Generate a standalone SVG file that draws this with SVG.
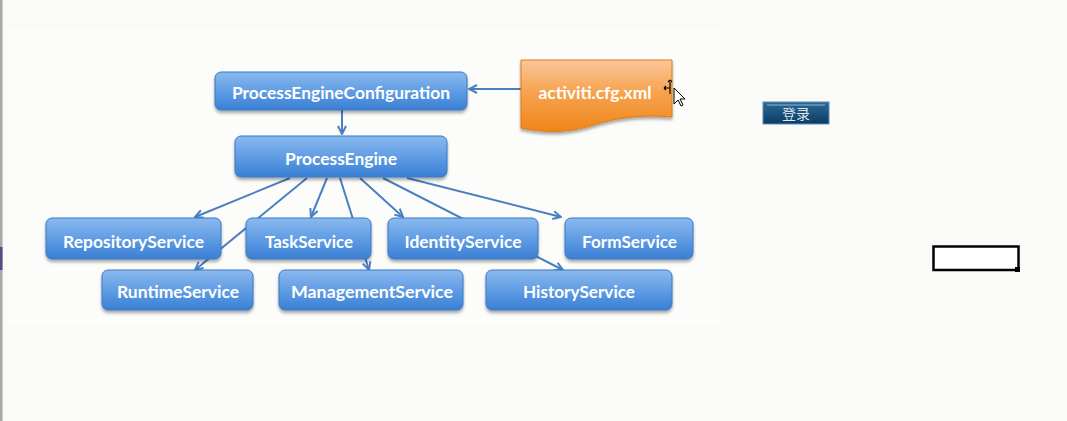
<svg xmlns="http://www.w3.org/2000/svg" width="1067" height="421" viewBox="0 0 1067 421">
<defs>
<linearGradient id="gBlue" x1="0" y1="0" x2="0" y2="1">
<stop offset="0" stop-color="#8ab9ee"/>
<stop offset="0.5" stop-color="#619de4"/>
<stop offset="1" stop-color="#397fd4"/>
</linearGradient>
<linearGradient id="gOrange" x1="0" y1="0" x2="0" y2="1">
<stop offset="0" stop-color="#fac79a"/>
<stop offset="0.45" stop-color="#f6a350"/>
<stop offset="1" stop-color="#f08519"/>
</linearGradient>
<linearGradient id="gBtn" x1="0" y1="0" x2="0" y2="1">
<stop offset="0" stop-color="#2c6a96"/>
<stop offset="1" stop-color="#0c3b62"/>
</linearGradient>
<filter id="sh" x="-10%" y="-20%" width="120%" height="160%">
<feDropShadow dx="0" dy="2.5" stdDeviation="1.5" flood-color="#000" flood-opacity="0.35"/>
</filter>
<marker id="arr" viewBox="0 0 10 10" refX="9" refY="5" markerWidth="10" markerHeight="10" markerUnits="userSpaceOnUse" orient="auto">
<path d="M1,1 L9,5 L1,9" fill="none" stroke="#4a7fc0" stroke-width="2"/>
</marker>
</defs>
<style>
.box{fill:url(#gBlue);stroke:#3a78c6;stroke-width:1;filter:url(#sh)}
.lbl{font-family:"Lato","Open Sans","Liberation Sans",sans-serif;font-size:17px;font-weight:700;fill:#ffffff;text-anchor:middle}
.con{stroke:#4a7fc0;stroke-width:2;fill:none;marker-end:url(#arr)}
</style>
<rect x="0" y="0" width="1067" height="421" fill="#fafaf8"/>
<rect x="8" y="30" width="712" height="295" fill="#fcfcfb"/>
<rect x="0" y="0" width="2.5" height="421" fill="#a8a8a4"/>
<rect x="0" y="247" width="2.5" height="23" fill="#5b4a80"/>

<g id="connectors">
<path class="con" d="M521,89 L469,89"/>
<path class="con" d="M342,110 L342,134"/>
<path class="con" d="M290,178 L195,217"/>
<path class="con" d="M307,178 L195,270"/>
<path class="con" d="M327,178 L311,217"/>
<path class="con" d="M340,178 L369,270"/>
<path class="con" d="M360,178 L403,217"/>
<path class="con" d="M383,178 L563,270"/>
<path class="con" d="M407,178 L561,217"/>
</g>

<g id="ProcessEngineConfiguration">
<rect class="box" x="215" y="72" width="252" height="38" rx="6"/>
<text class="lbl" x="341" y="99" textLength="218" lengthAdjust="spacingAndGlyphs">ProcessEngineConfiguration</text>
</g>
<g id="activiti-cfg-xml">
<path d="M521,60 L672,60 L672,117 C640,114 615,118 590,126 C565,134 540,132 521,128 Z" fill="url(#gOrange)" stroke="#e07a14" stroke-width="1" filter="url(#sh)"/>
<text class="lbl" x="595" y="99" textLength="113" lengthAdjust="spacingAndGlyphs">activiti.cfg.xml</text>
</g>
<g id="ProcessEngine">
<rect class="box" x="235" y="136" width="212" height="41" rx="6"/>
<text class="lbl" x="341" y="165" textLength="112" lengthAdjust="spacingAndGlyphs">ProcessEngine</text>
</g>
<g id="RepositoryService">
<rect class="box" x="46" y="218" width="175" height="41" rx="6"/>
<text class="lbl" x="133.5" y="248" textLength="141" lengthAdjust="spacingAndGlyphs">RepositoryService</text>
</g>
<g id="TaskService">
<rect class="box" x="246" y="218" width="125" height="41" rx="6"/>
<text class="lbl" x="309" y="248" textLength="88" lengthAdjust="spacingAndGlyphs">TaskService</text>
</g>
<g id="IdentityService">
<rect class="box" x="388" y="218" width="150" height="41" rx="6"/>
<text class="lbl" x="463" y="248" textLength="117" lengthAdjust="spacingAndGlyphs">IdentityService</text>
</g>
<g id="FormService">
<rect class="box" x="565" y="218" width="128" height="41" rx="6"/>
<text class="lbl" x="629.5" y="248" textLength="95" lengthAdjust="spacingAndGlyphs">FormService</text>
</g>
<g id="RuntimeService">
<rect class="box" x="102" y="270" width="151" height="40" rx="6"/>
<text class="lbl" x="178" y="298" textLength="122" lengthAdjust="spacingAndGlyphs">RuntimeService</text>
</g>
<g id="ManagementService">
<rect class="box" x="279" y="270" width="184" height="40" rx="6"/>
<text class="lbl" x="372" y="298" textLength="162" lengthAdjust="spacingAndGlyphs">ManagementService</text>
</g>
<g id="HistoryService">
<rect class="box" x="486" y="270" width="186" height="40" rx="6"/>
<text class="lbl" x="579" y="298" textLength="112" lengthAdjust="spacingAndGlyphs">HistoryService</text>
</g>

<g id="cursor">
<path d="M674,88 L674,104 L678,100 L681,106 L683,105 L680,99 L685,99 Z" fill="#ffffff" stroke="#000" stroke-width="1"/>
<path d="M664,88 L670,88 M670,82 L670,94 M664,88 L666,86 M664,88 L666,90 M670,80 L668,82 M670,80 L672,82" stroke="#000" stroke-width="1.2" fill="none"/>
</g>

<g id="login-button">
<rect x="763" y="102" width="66" height="22" fill="url(#gBtn)" stroke="#5b8fb5" stroke-width="1"/>
<line x1="767" y1="105" x2="825" y2="105" stroke="#8fb3cc" stroke-width="1.2"/>
<text x="796" y="119" font-family="'Noto Sans CJK SC',sans-serif" font-size="14" fill="#dfe6ee" text-anchor="middle">登录</text>
</g>

<g id="black-box">
<rect x="933.5" y="246.5" width="85" height="23.5" fill="#ffffff" stroke="#000" stroke-width="2.5"/>
<rect x="1015" y="267" width="5" height="5" fill="#000"/>
</g>
</svg>
